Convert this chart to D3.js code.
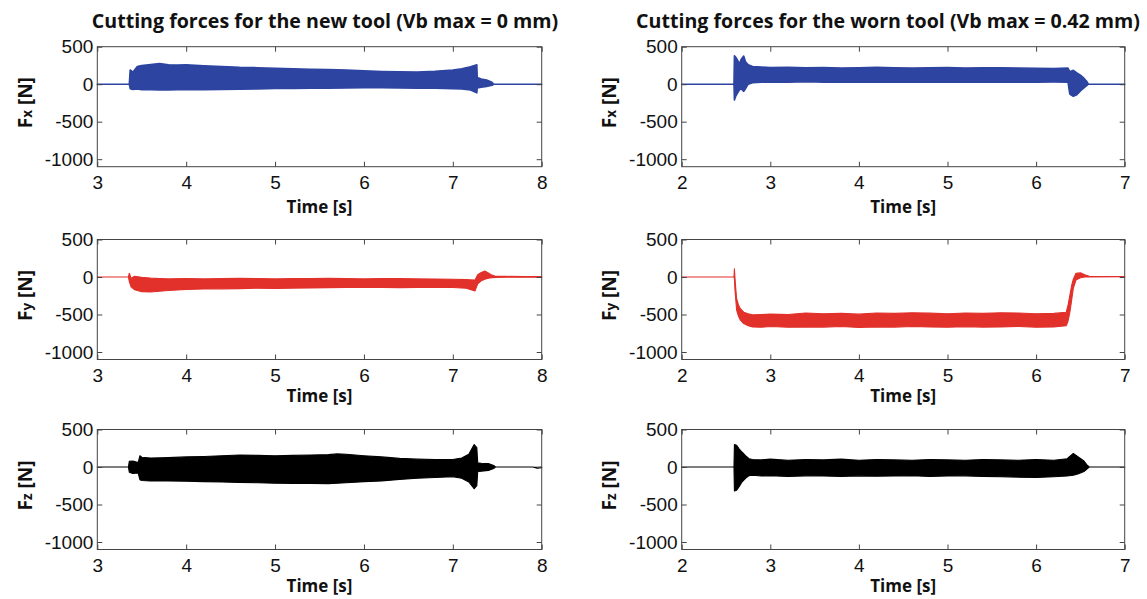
<!DOCTYPE html>
<html>
<head>
<meta charset="utf-8">
<script src="https://cdn.jsdelivr.net/npm/d3@7"></script>
<style>
  html, body { margin: 0; padding: 0; background: #fff; }
  svg { display: block; }
  .tick text { font-family: "Liberation Sans", Arial, sans-serif; font-size: 19px; fill: #111; }
  .axis path, .axis line { stroke: #444; }
  .lbl { font-family: "Open Sans", sans-serif; font-weight: 700; fill: #111; }
</style>
</head>
<body>
<svg id="chart" width="1147" height="599"></svg>
<script>
// Envelope of each force signal (upper / lower), in N
// New tool, time axis 3..8 s
const tFxNew = [3, 3.36, 3.37, 3.40, 3.45, 3.50, 3.60, 3.70, 3.80, 3.90, 4.00, 4.20, 4.40, 4.60, 4.80, 5.00, 5.20, 5.40, 5.60, 5.80, 6.00, 6.20, 6.40, 6.60, 6.80, 7.00, 7.10, 7.20, 7.27, 7.275, 7.32, 7.38, 7.44, 7.46, 8];
const upFxNew = [0, 0, 190, 160, 235, 250, 262, 275, 258, 255, 258, 245, 236, 225, 220, 212, 205, 200, 196, 188, 178, 170, 164, 163, 172, 190, 205, 232, 258, 90, 70, 55, 25, 0, 0];
const loFxNew = [0, 0, -60, -70, -65, -72, -75, -78, -76, -74, -75, -72, -70, -68, -62, -58, -56, -54, -52, -50, -48, -48, -50, -52, -55, -60, -65, -78, -115, -50, -40, -30, -15, 0, 0];

const tFyNew = [3, 3.35, 3.36, 3.38, 3.42, 3.50, 3.60, 3.70, 3.80, 4.00, 4.20, 4.40, 4.60, 4.80, 5.00, 5.20, 5.40, 5.60, 5.80, 6.00, 6.20, 6.40, 6.60, 6.80, 7.00, 7.15, 7.25, 7.28, 7.32, 7.36, 7.40, 7.44, 7.48, 7.60, 7.80, 8];
const upFyNew = [0, 0, 50, -15, 10, -5, -15, -20, -25, -20, -25, -22, -18, -20, -25, -22, -20, -18, -22, -25, -20, -22, -25, -28, -30, -35, -40, 30, 60, 80, 55, 25, 10, 8, 6, 5];
const loFyNew = [0, 0, -60, -130, -170, -195, -200, -190, -180, -165, -160, -158, -155, -150, -152, -148, -145, -142, -140, -138, -140, -142, -140, -138, -140, -150, -185, -90, -50, -30, -15, -8, -5, -4, -4, -3];

const tFzNew = [3, 3.35, 3.36, 3.40, 3.46, 3.48, 3.50, 3.60, 3.80, 4.00, 4.20, 4.40, 4.60, 4.80, 5.00, 5.20, 5.40, 5.60, 5.70, 5.80, 6.00, 6.20, 6.40, 6.60, 6.80, 7.00, 7.10, 7.18, 7.24, 7.27, 7.28, 7.32, 7.40, 7.46, 7.48, 7.90, 7.95, 8];
const upFzNew = [0, 0, 75, 80, 60, 150, 130, 120, 125, 135, 140, 150, 160, 155, 150, 155, 160, 165, 175, 170, 150, 135, 115, 105, 100, 100, 120, 170, 300, 260, 55, 50, 45, 20, 0, 0, -5, 0];
const loFzNew = [0, 0, -70, -85, -80, -170, -180, -185, -185, -190, -195, -200, -205, -210, -215, -218, -220, -222, -215, -210, -195, -185, -165, -150, -140, -130, -150, -200, -290, -250, -60, -55, -45, -20, 0, 0, -15, -10];

// Worn tool, time axis 2..7 s
const tFxWorn = [2, 2.59, 2.595, 2.61, 2.63, 2.65, 2.67, 2.70, 2.72, 2.75, 2.80, 2.90, 3.00, 3.20, 3.40, 3.60, 3.80, 4.00, 4.20, 4.40, 4.60, 4.80, 5.00, 5.20, 5.40, 5.60, 5.80, 6.00, 6.20, 6.36, 6.38, 6.42, 6.46, 6.50, 6.54, 6.57, 6.59, 7];
const upFxWorn = [0, 0, 380, 360, 320, 270, 330, 375, 300, 260, 235, 228, 222, 225, 218, 222, 215, 220, 225, 218, 214, 220, 222, 215, 218, 220, 215, 213, 210, 215, 165, 185, 150, 120, 80, 40, 0, 0];
const loFxWorn = [0, 0, -210, -160, -120, -80, -60, -95, -60, 0, 20, 28, 30, 25, 32, 28, 30, 26, 30, 28, 25, 30, 28, 26, 30, 28, 25, 28, 30, 28, -130, -160, -140, -90, -50, -20, 0, 0];

const tFyWorn = [2, 2.59, 2.595, 2.60, 2.61, 2.62, 2.64, 2.66, 2.70, 2.75, 2.80, 2.90, 3.00, 3.20, 3.40, 3.60, 3.80, 4.00, 4.20, 4.40, 4.60, 4.80, 5.00, 5.20, 5.40, 5.60, 5.80, 6.00, 6.20, 6.34, 6.36, 6.38, 6.40, 6.42, 6.45, 6.50, 6.55, 6.60, 7];
const upFyWorn = [0, 0, 110, 10, -150, -290, -370, -420, -470, -490, -505, -500, -495, -500, -480, -490, -485, -495, -480, -485, -478, -482, -490, -480, -485, -478, -480, -490, -485, -470, -380, -250, -120, -30, 50, 55, 30, 10, 5];
const loFyWorn = [0, 0, -20, -150, -300, -440, -520, -570, -620, -650, -665, -670, -660, -670, -665, -668, -660, -672, -665, -668, -660, -665, -670, -662, -668, -665, -660, -670, -665, -650, -590, -480, -320, -150, -40, -10, 0, 0, 5];

const tFzWorn = [2, 2.59, 2.595, 2.62, 2.65, 2.68, 2.72, 2.76, 2.80, 2.90, 3.00, 3.20, 3.40, 3.60, 3.80, 4.00, 4.20, 4.40, 4.60, 4.80, 5.00, 5.20, 5.40, 5.60, 5.80, 6.00, 6.20, 6.35, 6.42, 6.48, 6.54, 6.58, 6.60, 7];
const upFzWorn = [0, 0, 300, 290, 240, 200, 150, 110, 100, 95, 105, 90, 100, 95, 105, 90, 100, 95, 90, 100, 95, 90, 100, 95, 90, 100, 90, 110, 180, 130, 80, 20, 0, 0];
const loFzWorn = [0, 0, -320, -310, -260, -200, -150, -115, -110, -120, -115, -125, -118, -120, -125, -118, -122, -120, -115, -125, -120, -118, -125, -130, -135, -140, -130, -120, -110, -90, -60, -20, 0, 0];

// Axes
const yTicks = [500, 0, -500, -1000];
const xTicksNew = [3, 4, 5, 6, 7, 8];
const xTicksWorn = [2, 3, 4, 5, 6, 7];
const titles = ["Cutting forces for the new tool (Vb max = 0 mm)", "Cutting forces for the worn tool (Vb max = 0.42 mm)"];
const forceNames = ["x", "y", "z"];
const colors = ["#2d44a1", "#e1312a", "#000000"];

const columns = [
  { x0: 97.3, x1: 541.7, domain: [3, 8], ticks: xTicksNew, titleX: 325,
    series: [[tFxNew, upFxNew, loFxNew], [tFyNew, upFyNew, loFyNew], [tFzNew, upFzNew, loFzNew]] },
  { x0: 681.7, x1: 1124.7, domain: [2, 7], ticks: xTicksWorn, titleX: 888,
    series: [[tFxWorn, upFxWorn, loFxWorn], [tFyWorn, upFyWorn, loFyWorn], [tFzWorn, upFzWorn, loFzWorn]] },
];
const rowTops = [46.7, 239.5, 429.5];
const timeOffsets = [46, 42, 42];
const plotH = 120;

const svg = d3.select("#chart");

columns.forEach((col, ci) => {
  svg.append("text")
    .attr("class", "lbl")
    .attr("x", col.titleX)
    .attr("y", 28)
    .attr("text-anchor", "middle")
    .style("font-size", "19.6px")
    .text(titles[ci]);

  rowTops.forEach((top, ri) => {
    const x = d3.scaleLinear().domain(col.domain).range([col.x0, col.x1]);
    const y = d3.scaleLinear().domain([-1100, 500]).range([top + plotH, top]);
    const [ts, up, lo] = col.series[ri];
    const pts = ts.map((t, i) => ({ t: t, u: up[i], l: lo[i] }));

    const g = svg.append("g");

    // signal envelope
    g.append("path")
      .datum(pts)
      .attr("fill", colors[ri])
      .attr("stroke", colors[ri])
      .attr("stroke-width", ri === 0 ? 1.6 : 1.1)
      .attr("stroke-linejoin", "round")
      .attr("d", d3.area()
        .x(d => x(d.t))
        .y0(d => y(d.l))
        .y1(d => y(d.u)));

    // MATLAB-like box with inward ticks
    g.append("g").attr("class", "axis")
      .attr("transform", `translate(${col.x0},0)`)
      .call(d3.axisLeft(y).tickValues(yTicks).tickSize(-5).tickSizeOuter(0).tickPadding(4).tickFormat(d => String(d)))
      .call(a => a.select(".domain").remove());
    g.append("g").attr("class", "axis")
      .attr("transform", `translate(${col.x1},0)`)
      .call(d3.axisRight(y).tickValues(yTicks).tickSize(-5).tickSizeOuter(0).tickFormat(""))
      .call(a => a.select(".domain").remove());
    g.append("g").attr("class", "axis")
      .attr("transform", `translate(0,${top + plotH})`)
      .call(d3.axisBottom(x).tickValues(col.ticks).tickSize(-5).tickSizeOuter(0).tickPadding(9).tickFormat(d => String(d)))
      .call(a => a.select(".domain").remove());
    g.append("g").attr("class", "axis")
      .attr("transform", `translate(0,${top})`)
      .call(d3.axisTop(x).tickValues(col.ticks).tickSize(-5).tickSizeOuter(0).tickFormat(""))
      .call(a => a.select(".domain").remove());

    g.append("rect")
      .attr("x", col.x0).attr("y", top)
      .attr("width", col.x1 - col.x0).attr("height", plotH)
      .attr("fill", "none").attr("stroke", "#444").attr("stroke-width", 1);

    // axis labels
    g.append("text")
      .attr("class", "lbl")
      .attr("x", (col.x0 + col.x1) / 2)
      .attr("y", top + plotH + timeOffsets[ri])
      .attr("text-anchor", "middle")
      .style("font-size", "17px")
      .text("Time [s]");

    const yl = g.append("text")
      .attr("class", "lbl")
      .attr("transform", `translate(${col.x0 - 65.5},${top + plotH / 2 - 4}) rotate(-90)`)
      .attr("text-anchor", "middle")
      .style("font-size", "19px");
    yl.append("tspan").text("F");
    yl.append("tspan").style("font-size", "13.5px").text(forceNames[ri]);
    yl.append("tspan").text(" [N]");
  });
});
</script>
</body>
</html>
